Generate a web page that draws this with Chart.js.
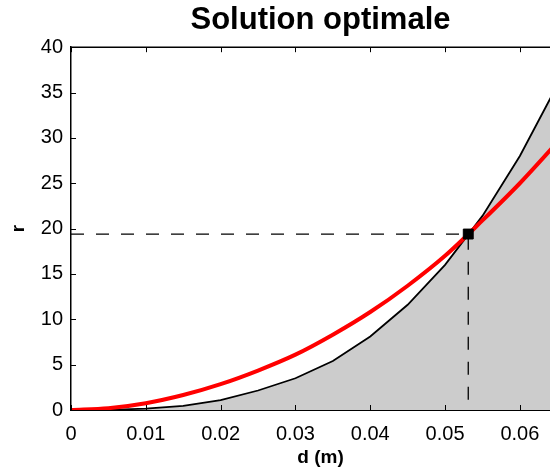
<!DOCTYPE html>
<html>
<head>
<meta charset="utf-8">
<script src="https://cdn.jsdelivr.net/npm/chart.js@4"></script>
<style>
  html, body { margin: 0; padding: 0; background: #fff; overflow: hidden; }
  #wrap { width: 550px; height: 469px; position: relative; overflow: hidden; }
  #c { position: absolute; left: 0; top: 0; }
</style>
</head>
<body>
<div id="wrap"><canvas id="c" width="570" height="469"></canvas></div>
<script>
// ---- data ----
const dValues = [0, 0.005, 0.01, 0.015, 0.02, 0.025, 0.03, 0.035, 0.04, 0.045, 0.05, 0.055, 0.06, 0.065];
const rBlack  = [0, 0.02, 0.15, 0.45, 1.1, 2.15, 3.5, 5.4, 8.1, 11.6, 16.0, 21.4, 28.0, 35.8];
const rRed    = [0, 0.2, 0.75, 1.65, 2.85, 4.35, 6.1, 8.3, 10.8, 13.7, 17.0, 20.9, 25.0, 29.5];
const dOpt = 0.0531;
const rOpt = 19.4;
const xTicks = [0, 0.01, 0.02, 0.03, 0.04, 0.05, 0.06];
const yTicks = [0, 5, 10, 15, 20, 25, 30, 35, 40];
const xTickLabels = ['0', '0.01', '0.02', '0.03', '0.04', '0.05', '0.06'];
const titleText = 'Solution optimale';
const xTitle = 'd (m)';
const yTitle = 'r';

const FONT = "'Liberation Sans', Arial, Helvetica, sans-serif";

const toXY = (xs, ys) => xs.map((x, i) => ({ x: x, y: ys[i] }));

const innerTicks = {
  id: 'innerTicks',
  afterDatasetsDraw(chart) {
    const { ctx, chartArea: a, scales } = chart;
    const xs = scales.x, ys = scales.y;
    const L = 5;
    ctx.save();
    ctx.strokeStyle = '#000';
    ctx.lineWidth = 1;
    ctx.beginPath();
    xTicks.forEach(v => {
      const px = Math.round(xs.getPixelForValue(v)) + 0.5;
      ctx.moveTo(px, a.bottom); ctx.lineTo(px, a.bottom - L);
      ctx.moveTo(px, a.top); ctx.lineTo(px, a.top + L);
    });
    yTicks.forEach(v => {
      const py = Math.round(ys.getPixelForValue(v)) + 0.5;
      ctx.moveTo(a.left, py); ctx.lineTo(a.left + L, py);
    });
    ctx.stroke();
    ctx.lineWidth = 1.5;
    ctx.beginPath();
    ctx.moveTo(a.left, a.top); ctx.lineTo(a.right, a.top);
    ctx.stroke();
    ctx.restore();
  }
};

new Chart(document.getElementById('c'), {
  type: 'line',
  data: {
    datasets: [
      {
        label: 'optimum',
        data: [{ x: dOpt, y: rOpt }],
        showLine: false,
        pointStyle: 'rect',
        pointRadius: 7,
        pointBackgroundColor: '#000',
        pointBorderColor: '#000',
        pointBorderWidth: 1
      },
      {
        label: 'guides',
        data: [{ x: 0, y: rOpt }, { x: dOpt, y: rOpt }, { x: dOpt, y: 0 }],
        borderColor: '#000',
        borderWidth: 1.3,
        borderDash: [13, 12],
        pointRadius: 0,
        fill: false,
        tension: 0
      },
      {
        label: 'rouge',
        data: toXY(dValues, rRed),
        borderColor: '#ff0000',
        borderWidth: 4,
        pointRadius: 0,
        fill: false,
        cubicInterpolationMode: 'monotone'
      },
      {
        label: 'noir',
        data: toXY(dValues, rBlack),
        borderColor: '#000',
        borderWidth: 1.8,
        pointRadius: 0,
        fill: 'origin',
        backgroundColor: '#cccccc',
        tension: 0
      }
    ]
  },
  options: {
    responsive: false,
    animation: false,
    events: [],
    layout: { padding: 0, autoPadding: false },
    plugins: {
      legend: { display: false },
      tooltip: { enabled: false },
      title: {
        display: true,
        text: titleText,
        fullSize: false,
        color: '#000',
        font: { family: FONT, size: 31, weight: 'bold' },
        padding: { top: 2, bottom: 8 }
      }
    },
    scales: {
      x: {
        type: 'linear',
        min: 0,
        max: 0.0667,
        afterBuildTicks: s => { s.ticks = xTicks.map(v => ({ value: v })); },
        afterFit: s => { s.height = 59; s.paddingLeft = 0; s.paddingRight = 0; },
        ticks: {
          color: '#000',
          font: { family: FONT, size: 20 },
          padding: 12,
          maxRotation: 0,
          autoSkip: false,
          callback: (v, i) => xTickLabels[i]
        },
        grid: { display: true, drawOnChartArea: false, drawTicks: false },
        border: { display: true, color: '#000', width: 2 },
        title: {
          display: true,
          text: xTitle,
          color: '#000',
          font: { family: FONT, size: 19, weight: 'bold' },
          padding: { top: 0, bottom: 0 }
        }
      },
      y: {
        type: 'linear',
        min: 0,
        max: 40,
        afterBuildTicks: s => { s.ticks = yTicks.map(v => ({ value: v })); },
        afterFit: s => { s.width = 71; s.paddingTop = 0; s.paddingBottom = 0; },
        ticks: {
          color: '#000',
          font: { family: FONT, size: 20 },
          padding: 8,
          autoSkip: false,
          callback: v => String(v)
        },
        grid: { display: true, drawOnChartArea: false, drawTicks: false },
        border: { display: true, color: '#000', width: 1.5 },
        title: {
          display: true,
          text: yTitle,
          color: '#000',
          font: { family: FONT, size: 19, weight: 'bold' },
          padding: { top: 7.5, bottom: 0 }
        }
      }
    }
  },
  plugins: [innerTicks]
});
</script>
</body>
</html>
